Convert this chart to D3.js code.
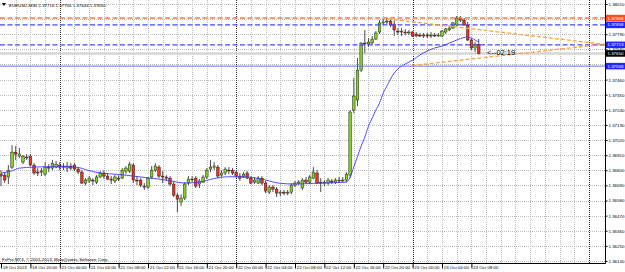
<!DOCTYPE html>
<html>
<head>
<meta charset="utf-8">
<script src="https://d3js.org/d3.v7.min.js"></script>
<style>
body { margin: 0; background: #fff; }
svg { display: block; }
text { font-family: "Liberation Sans", Arial, sans-serif; }
</style>
</head>
<body>
<div id="chart"></div>
<script>
// header / footer texts
var symbolText = "EURUSD,M30  1.37716 1.37756 1.37644 1.37650";
var copyrightText = "FxPro MT4, \u00A9 2001-2013, MetaQuotes Software Corp.";
var timerText = "<--02:19";

// time axis: one label every 8 bars (M30)
var timeTickBars = [0, 8, 16, 24, 32, 40, 48, 56, 64, 72, 80, 88, 96, 104, 112, 120, 128];
var timeLabels = ["18 Oct 2013", "18 Oct 20:00", "21 Oct 00:00", "21 Oct 04:00", "21 Oct 08:00",
  "21 Oct 12:00", "21 Oct 16:00", "21 Oct 20:00", "22 Oct 00:00", "22 Oct 04:00", "22 Oct 08:00",
  "22 Oct 12:00", "22 Oct 16:00", "22 Oct 20:00", "23 Oct 00:00", "23 Oct 04:00", "23 Oct 08:00"];
var separatorBars = [16, 64, 112, 160];

// price axis labels
var priceTicks = [1.38010, 1.37900, 1.37790, 1.37680, 1.37570, 1.37460, 1.37350, 1.37240, 1.37130,
  1.37020, 1.36910, 1.36800, 1.36690, 1.36580, 1.36470, 1.36360, 1.36250, 1.36140];

// candles: [open, high, low, close]
var candles = [
  [1.36772,1.36801,1.36685,1.36758],[1.36765,1.36787,1.36707,1.36729],[1.36751,1.36838,1.36700,1.36801],
  [1.36823,1.36983,1.36809,1.36932],[1.36932,1.36976,1.36874,1.36918],[1.36903,1.36962,1.36889,1.36918],
  [1.36860,1.36911,1.36845,1.36903],[1.36896,1.36918,1.36874,1.36893],[1.36903,1.36918,1.36831,1.36838],
  [1.36838,1.36852,1.36765,1.36780],[1.36787,1.36816,1.36758,1.36780],[1.36787,1.36816,1.36758,1.36794],
  [1.36772,1.36860,1.36758,1.36823],[1.36823,1.36845,1.36787,1.36816],[1.36816,1.36874,1.36801,1.36852],
  [1.36823,1.36867,1.36816,1.36845],[1.36838,1.36860,1.36801,1.36823],[1.36823,1.36852,1.36801,1.36831],
  [1.36816,1.36860,1.36787,1.36831],[1.36831,1.36852,1.36801,1.36816],[1.36838,1.36852,1.36794,1.36809],
  [1.36809,1.36823,1.36772,1.36787],[1.36787,1.36801,1.36700,1.36707],[1.36707,1.36743,1.36692,1.36729],
  [1.36722,1.36758,1.36707,1.36743],[1.36729,1.36743,1.36692,1.36722],[1.36714,1.36765,1.36700,1.36751],
  [1.36751,1.36794,1.36743,1.36780],[1.36780,1.36801,1.36736,1.36758],[1.36758,1.36780,1.36729,1.36736],
  [1.36736,1.36758,1.36700,1.36729],[1.36722,1.36765,1.36707,1.36751],[1.36743,1.36765,1.36722,1.36736],
  [1.36743,1.36816,1.36736,1.36801],[1.36794,1.36831,1.36772,1.36816],[1.36794,1.36860,1.36780,1.36845],
  [1.36838,1.36852,1.36707,1.36729],[1.36729,1.36758,1.36692,1.36722],[1.36729,1.36743,1.36678,1.36692],
  [1.36685,1.36707,1.36656,1.36678],[1.36678,1.36751,1.36663,1.36743],[1.36751,1.36831,1.36736,1.36801],
  [1.36801,1.36852,1.36787,1.36831],[1.36823,1.36838,1.36743,1.36758],[1.36758,1.36794,1.36707,1.36751],
  [1.36751,1.36765,1.36722,1.36743],[1.36743,1.36758,1.36685,1.36700],[1.36700,1.36714,1.36605,1.36619],
  [1.36619,1.36634,1.36496,1.36590],[1.36569,1.36627,1.36539,1.36598],[1.36598,1.36714,1.36583,1.36700],
  [1.36707,1.36758,1.36692,1.36736],[1.36736,1.36758,1.36714,1.36733],[1.36743,1.36758,1.36671,1.36685],
  [1.36700,1.36736,1.36671,1.36722],[1.36714,1.36765,1.36707,1.36751],[1.36751,1.36816,1.36736,1.36801],
  [1.36809,1.36874,1.36787,1.36823],[1.36823,1.36860,1.36801,1.36831],[1.36823,1.36838,1.36743,1.36758],
  [1.36765,1.36801,1.36751,1.36780],[1.36780,1.36823,1.36765,1.36809],[1.36801,1.36823,1.36772,1.36798],
  [1.36801,1.36816,1.36765,1.36780],[1.36787,1.36801,1.36743,1.36758],[1.36758,1.36780,1.36722,1.36743],
  [1.36751,1.36787,1.36743,1.36772],[1.36780,1.36794,1.36736,1.36743],[1.36743,1.36758,1.36700,1.36707],
  [1.36714,1.36751,1.36700,1.36729],[1.36707,1.36758,1.36700,1.36743],[1.36743,1.36758,1.36692,1.36707],
  [1.36707,1.36722,1.36634,1.36649],[1.36641,1.36692,1.36627,1.36678],[1.36678,1.36692,1.36641,1.36663],
  [1.36663,1.36678,1.36605,1.36634],[1.36634,1.36656,1.36612,1.36641],[1.36641,1.36656,1.36619,1.36634],
  [1.36634,1.36656,1.36619,1.36641],[1.36641,1.36707,1.36627,1.36692],[1.36692,1.36722,1.36678,1.36707],
  [1.36707,1.36729,1.36692,1.36714],[1.36671,1.36743,1.36656,1.36729],[1.36729,1.36751,1.36700,1.36714],
  [1.36714,1.36765,1.36700,1.36751],[1.36743,1.36823,1.36736,1.36787],[1.36780,1.36801,1.36700,1.36707],
  [1.36714,1.36743,1.36641,1.36707],[1.36707,1.36729,1.36685,1.36714],[1.36707,1.36743,1.36692,1.36729],
  [1.36722,1.36736,1.36700,1.36714],[1.36714,1.36743,1.36700,1.36729],[1.36729,1.36751,1.36707,1.36722],
  [1.36722,1.36751,1.36714,1.36729],[1.36729,1.36787,1.36714,1.36772],[1.36765,1.37238,1.36743,1.37224],
  [1.37238,1.37471,1.37216,1.37340],[1.37311,1.37617,1.37267,1.37529],[1.37529,1.37733,1.37515,1.37726],
  [1.37726,1.37821,1.37653,1.37719],[1.37719,1.37762,1.37697,1.37733],[1.37726,1.37777,1.37711,1.37755],
  [1.37755,1.37813,1.37748,1.37799],[1.37806,1.37893,1.37792,1.37872],[1.37872,1.37901,1.37857,1.37879],
  [1.37879,1.37915,1.37864,1.37886],[1.37886,1.37901,1.37842,1.37857],[1.37864,1.37893,1.37777,1.37821],
  [1.37813,1.37835,1.37784,1.37806],[1.37806,1.37835,1.37777,1.37813],[1.37806,1.37828,1.37784,1.37799],
  [1.37799,1.37821,1.37784,1.37806],[1.37806,1.37813,1.37770,1.37777],[1.37792,1.37806,1.37770,1.37777],
  [1.37784,1.37799,1.37770,1.37777],[1.37777,1.37799,1.37762,1.37784],[1.37784,1.37799,1.37762,1.37777],
  [1.37777,1.37806,1.37762,1.37784],[1.37784,1.37799,1.37770,1.37777],[1.37777,1.37799,1.37770,1.37784],
  [1.37777,1.37821,1.37770,1.37813],[1.37806,1.37835,1.37792,1.37828],[1.37821,1.37850,1.37813,1.37835],
  [1.37835,1.37879,1.37828,1.37872],[1.37857,1.37923,1.37850,1.37908],[1.37908,1.37923,1.37879,1.37893],
  [1.37893,1.37908,1.37850,1.37857],[1.37857,1.37879,1.37741,1.37748],[1.37748,1.37762,1.37675,1.37690],
  [1.37690,1.37733,1.37660,1.37716],[1.37716,1.37756,1.37644,1.37650]
];

// moving average, read at these bars
var maBars = [0, 3, 5, 9, 13, 18, 21, 23, 27, 32, 36, 40, 45, 50, 54, 58, 62, 65, 69, 72, 76, 80, 85, 90, 93,
  94, 95, 96, 97, 98, 99, 100, 101, 102, 103, 104, 105, 106, 107, 108, 110, 112, 114, 116, 118, 120, 122,
  124, 126, 127, 128, 129, 130];
var maValues = [1.36780, 1.36796, 1.36816, 1.36823, 1.36826, 1.36826, 1.36821, 1.36805, 1.36780, 1.36770,
  1.36758, 1.36745, 1.36729, 1.36707, 1.36714, 1.36740, 1.36753, 1.36753, 1.36745, 1.36729, 1.36705,
  1.36700, 1.36705, 1.36709, 1.36712, 1.36714, 1.36750, 1.36825, 1.36900, 1.36976, 1.37042, 1.37122,
  1.37180, 1.37238, 1.37289, 1.37362, 1.37413, 1.37464, 1.37508, 1.37537, 1.37573, 1.37602, 1.37639,
  1.37668, 1.37690, 1.37704, 1.37726, 1.37748, 1.37766, 1.37770, 1.37762, 1.37748, 1.37733];

// horizontal levels
var orangeLevel = 1.37908;
var blueDashedLevels = [1.37858, 1.37713];
var blueSolidLevel = 1.37558;
var bidPrice = 1.37650;

// triangle trendlines: [bar, price]
var upperTrend = [[105.3, 1.37901], [164.3, 1.37716]];
var lowerTrend = [[111.8, 1.37562], [164.3, 1.37718]];

var W = 625, H = 272, plotRight = 605, plotBottom = 263;

var svg = d3.select("#chart").append("svg")
  .attr("width", W).attr("height", H);

var x = d3.scaleLinear().domain([0, 164.3]).range([1, 604.8]);
var y = d3.scaleLinear().domain([1.36140, 1.38010]).range([261, 4]);

// grid
var grid = svg.append("g");
grid.selectAll(".hg").data(priceTicks).enter().append("line")
  .attr("x1", 0).attr("x2", plotRight)
  .attr("y1", function(d) { return Math.round(y(d)) + 0.5; })
  .attr("y2", function(d) { return Math.round(y(d)) + 0.5; })
  .attr("stroke", "#bdbdbd").attr("stroke-dasharray", "1,1");
grid.selectAll(".vg").data(d3.range(4, 164, 4).filter(function(b) { return separatorBars.indexOf(b) < 0; }))
  .enter().append("line")
  .attr("y1", 0).attr("y2", plotBottom)
  .attr("x1", function(d) { return Math.round(x(d)) + 0.5; })
  .attr("x2", function(d) { return Math.round(x(d)) + 0.5; })
  .attr("stroke", "#bdbdbd").attr("stroke-dasharray", "1,1");
grid.selectAll(".sep").data(separatorBars).enter().append("line")
  .attr("y1", 0).attr("y2", plotBottom)
  .attr("x1", function(d) { return Math.round(x(d)) + 0.5; })
  .attr("x2", function(d) { return Math.round(x(d)) + 0.5; })
  .attr("stroke", "#333").attr("stroke-dasharray", "1,1");

// bid line
svg.append("line")
  .attr("x1", 0).attr("x2", plotRight)
  .attr("y1", y(bidPrice)).attr("y2", y(bidPrice))
  .attr("stroke", "#d6d6d6").attr("stroke-width", 2.5);

// candles
var bars = svg.append("g").selectAll("g").data(candles).enter().append("g");
bars.append("line")
  .attr("x1", function(d, i) { return x(i); })
  .attr("x2", function(d, i) { return x(i); })
  .attr("y1", function(d) { return y(d[1]); })
  .attr("y2", function(d) { return y(d[2]); })
  .attr("stroke", "#3a3a3a").attr("stroke-width", 0.9);
bars.append("rect")
  .attr("x", function(d, i) { return x(i) - 1.3; })
  .attr("width", 2.6)
  .attr("y", function(d) { return y(Math.max(d[0], d[3])); })
  .attr("height", function(d) { return Math.max(0.8, Math.abs(y(d[0]) - y(d[3]))); })
  .attr("fill", function(d) { return d[3] >= d[0] ? "#7ed321" : "#f0301c"; })
  .attr("stroke", "#222").attr("stroke-width", 0.5);

// moving average
svg.append("path")
  .datum(maBars.map(function(b, i) { return [b, maValues[i]]; }))
  .attr("fill", "none").attr("stroke", "#3c3cff").attr("stroke-width", 0.9)
  .attr("d", d3.line().x(function(d) { return x(d[0]); }).y(function(d) { return y(d[1]); })
    .curve(d3.curveMonotoneX));

// level lines
svg.append("line")
  .attr("x1", 0).attr("x2", plotRight)
  .attr("y1", y(orangeLevel)).attr("y2", y(orangeLevel))
  .attr("stroke", "#ff7a45").attr("stroke-width", 1.3).attr("stroke-dasharray", "5,2.5");
svg.selectAll(".bl").data(blueDashedLevels).enter().append("line")
  .attr("x1", 0).attr("x2", plotRight)
  .attr("y1", function(d) { return y(d); }).attr("y2", function(d) { return y(d); })
  .attr("stroke", "#4646ff").attr("stroke-width", 1.3).attr("stroke-dasharray", "5,2.5");
svg.append("line")
  .attr("x1", 0).attr("x2", plotRight)
  .attr("y1", y(blueSolidLevel)).attr("y2", y(blueSolidLevel))
  .attr("stroke", "#6a6aff").attr("stroke-width", 1);

// trendlines
svg.selectAll(".tl").data([upperTrend, lowerTrend]).enter().append("path")
  .attr("fill", "none").attr("stroke", "#f9a640").attr("stroke-width", 1.3)
  .attr("stroke-dasharray", "4,2")
  .attr("d", d3.line().x(function(d) { return x(d[0]); }).y(function(d) { return y(d[1]); }));

// timer text
svg.append("text").attr("x", 487).attr("y", 55)
  .attr("font-size", 7.5).attr("fill", "#000").text(timerText);

// axes frame
svg.append("line").attr("x1", plotRight + 0.5).attr("x2", plotRight + 0.5)
  .attr("y1", 0).attr("y2", plotBottom + 0.5).attr("stroke", "#000");
svg.append("line").attr("x1", 0).attr("x2", plotRight + 0.5)
  .attr("y1", plotBottom + 0.5).attr("y2", plotBottom + 0.5).attr("stroke", "#000");

// price axis
var yAxis = svg.append("g").attr("transform", "translate(" + (plotRight + 0.5) + ",0)")
  .call(d3.axisRight(y).tickValues(priceTicks).tickFormat(d3.format(".5f")).tickSize(2).tickPadding(1));
yAxis.select(".domain").remove();
yAxis.selectAll("text").attr("font-size", 4.4).attr("font-family", "Liberation Sans, Arial, sans-serif");

// time axis
var xAxis = svg.append("g").attr("transform", "translate(0," + (plotBottom + 0.5) + ")")
  .call(d3.axisBottom(x).tickValues(timeTickBars)
    .tickFormat(function(d, i) { return timeLabels[i]; }).tickSize(5).tickPadding(-1));
xAxis.select(".domain").remove();
xAxis.selectAll("text").attr("font-size", 4.4).attr("font-family", "Liberation Sans, Arial, sans-serif")
  .attr("text-anchor", "start").attr("dx", 1.2).attr("dy", "0.3em");

// colored price labels
var priceLabels = [
  {p: orangeLevel, c: "#ff4f1f"},
  {p: blueDashedLevels[0], c: "#2424ff"},
  {p: blueDashedLevels[1], c: "#2424ff"},
  {p: bidPrice, c: "#000"},
  {p: blueSolidLevel, c: "#2424ff"}
];
var pl = svg.selectAll(".pl").data(priceLabels).enter().append("g");
pl.append("rect").attr("x", plotRight + 1).attr("width", 20).attr("height", 6.5)
  .attr("y", function(d) { return y(d.p) - 3.25; }).attr("fill", function(d) { return d.c; });
pl.append("text").attr("x", plotRight + 2.5).attr("y", function(d) { return y(d.p) + 1.5; })
  .attr("font-size", 4.4).attr("fill", "#fff").text(function(d) { return d.p.toFixed(5); });

// header
svg.append("path").attr("d", "M2,3 L6,3 L4,6 Z").attr("fill", "#000");
svg.append("text").attr("x", 9).attr("y", 6.5).attr("font-size", 4.4).attr("fill", "#000").text(symbolText);
svg.append("text").attr("x", 2).attr("y", 260.5).attr("font-size", 4.4).attr("fill", "#000").text(copyrightText);
</script>
</body>
</html>
